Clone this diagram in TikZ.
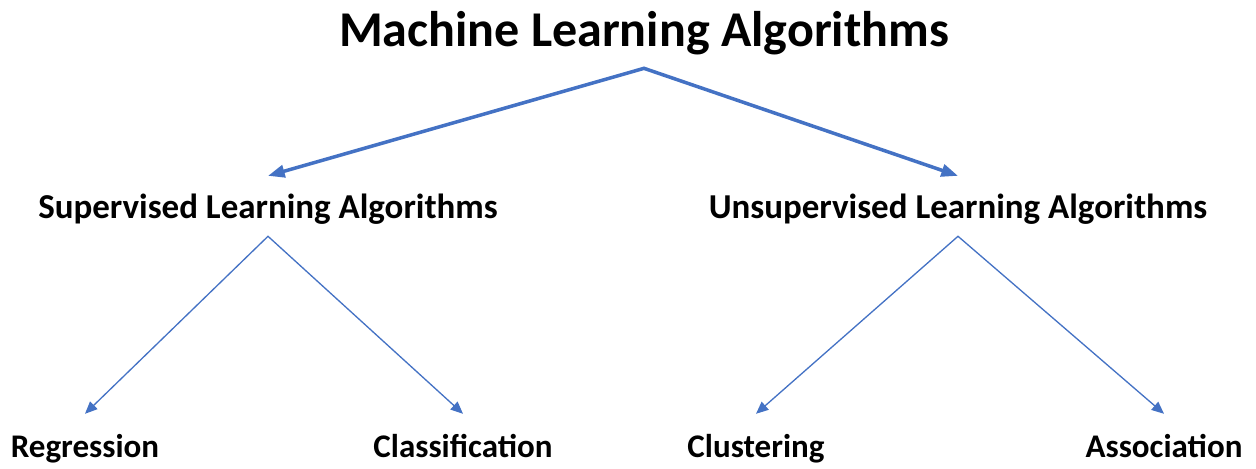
\documentclass[tikz,border=0pt]{standalone}
\usepackage{fontspec}
\setmainfont{Carlito}
\usetikzlibrary{arrows.meta}
\definecolor{arblue}{HTML}{4472C4}
\begin{document}
\begin{tikzpicture}
[x=0.02cm,y=-0.02cm,
 ttl/.style={font=\bfseries\fontsize{28.5}{30}\selectfont,inner sep=0pt,anchor=base,text height=18pt,text depth=12.5pt},
 sub/.style={font=\bfseries\fontsize{19.9}{22}\selectfont,inner sep=0pt,anchor=base,text height=23.8pt,text depth=10.2pt},
 leaf/.style={font=\bfseries\fontsize{18.8}{22}\selectfont,inner sep=0pt,anchor=base,text height=24.4pt},
 big/.style={{Triangle[length=9.5pt,width=7pt]}-{Triangle[length=9.5pt,width=7pt]},arblue,line width=2pt},
 sml/.style={{Triangle[length=7pt,width=6pt]}-{Triangle[length=7pt,width=6pt]},arblue,line width=0.75pt}]
\useasboundingbox (0,0) rectangle (1256,468);
\node [ttl] at (644,46) (ml) {Machine Learning Algorithms};
\node [sub] at (268,218) (sup) {Supervised Learning Algorithms};
\node [sub] at (958,218) (uns) {Unsupervised Learning Algorithms};
\node [leaf] at (85,457) (reg) {Regression};
\node [leaf] at (463,457) (cla) {Classification};
\node [leaf] at (756,457) (clu) {Clustering};
\node [leaf] at (1164,457) (ass) {Association};

\draw [big] (sup.north) -- (ml.south) -- (uns.north);
\draw [sml] (reg.north) -- (sup.south) -- (cla.north);
\draw [sml] (clu.north) -- (uns.south) -- (ass.north);
\end{tikzpicture}
\end{document}
